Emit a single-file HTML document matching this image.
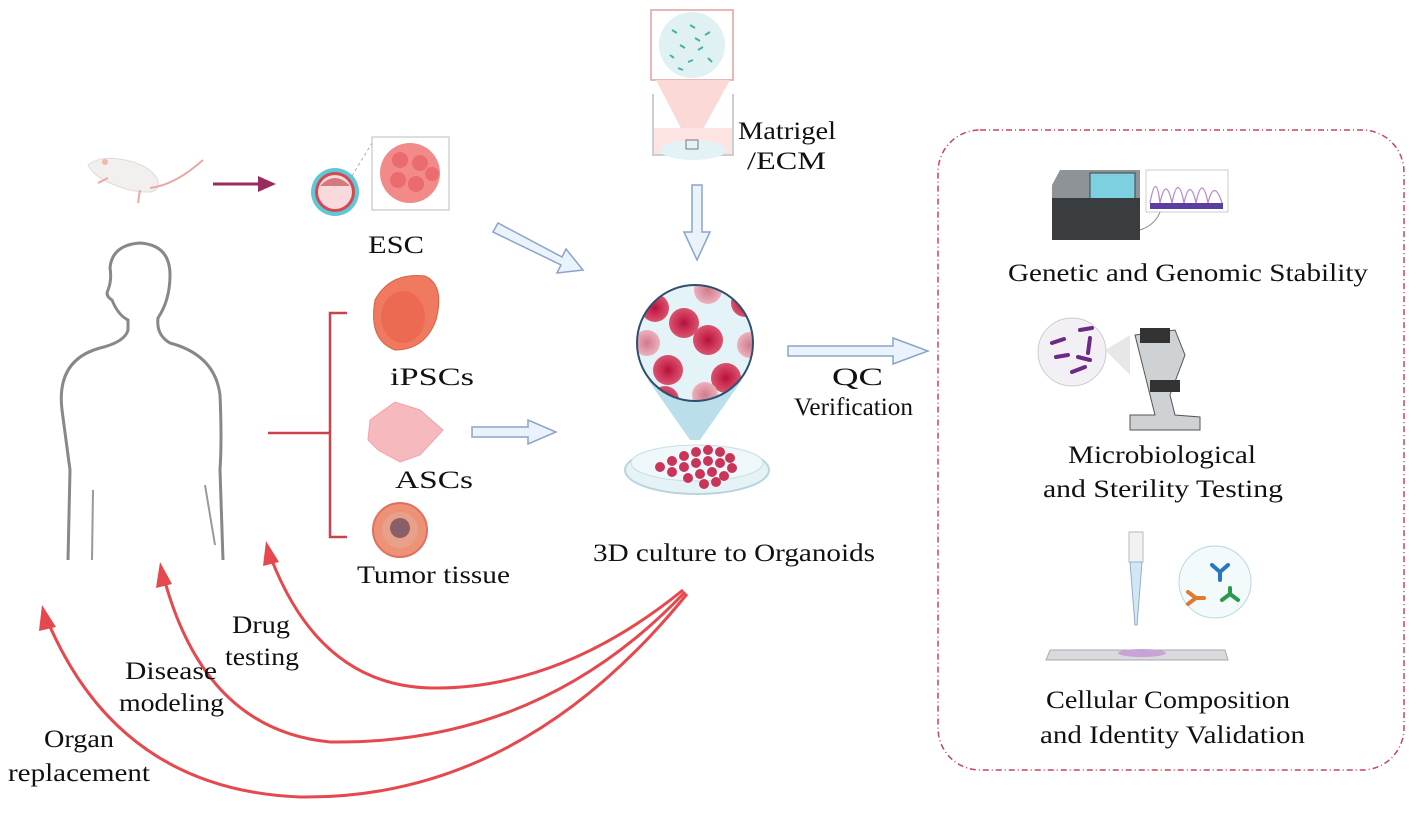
<!DOCTYPE html>
<html><head><meta charset="utf-8"><style>
html,body{margin:0;padding:0;background:#fff;}
svg{display:block;}
text{font-family:"Liberation Serif",serif;fill:#111;font-size:25px;}
</style></head><body>
<svg width="1417" height="815" viewBox="0 0 1417 815" xmlns="http://www.w3.org/2000/svg">
<defs>
<radialGradient id="cellg" cx="50%" cy="50%" r="50%"><stop offset="0" stop-color="#b0123a"/><stop offset="0.35" stop-color="#c8284e"/><stop offset="1" stop-color="#d9536f"/></radialGradient>
<radialGradient id="cellp" cx="50%" cy="50%" r="50%"><stop offset="0" stop-color="#d07a8c"/><stop offset="1" stop-color="#ecb1bd"/></radialGradient>
<clipPath id="bigc"><circle cx="695" cy="343" r="58"/></clipPath>
</defs>

<!-- mouse -->
<g>
<path d="M88,165 Q100,155 125,160 Q150,165 158,180 Q160,192 148,192 Q130,192 115,185 Q95,178 88,165 Z" fill="#f2f0ee" stroke="#e3d9d6"/>
<path d="M150,188 Q175,185 203,160" stroke="#e8a8a4" stroke-width="2" fill="none"/>
<path d="M140,190 L138,203 M108,178 L98,183" stroke="#e8a8a4" stroke-width="2"/>
<circle cx="105" cy="162" r="3" fill="#f4b6b0"/>
</g>
<line x1="213" y1="184" x2="262" y2="184" stroke="#9a2b5c" stroke-width="3"/>
<polygon points="258,176 276,184 258,192" fill="#9a2b5c"/>

<!-- blastocyst -->
<circle cx="335" cy="192" r="24" fill="#5ec7dc"/>
<circle cx="335" cy="192" r="20" fill="#d24a50"/>
<circle cx="335" cy="192" r="17" fill="#f8dadc"/>
<path d="M320,186 Q335,170 350,186 Z" fill="#d47a7f"/>
<line x1="352" y1="176" x2="372" y2="143" stroke="#aaa" stroke-dasharray="3,3"/>
<rect x="372" y="137" width="77" height="73" fill="#fff" stroke="#bbb"/>
<circle cx="410" cy="173" r="30" fill="#f28a8a"/>
<g fill="#ea6c6e"><circle cx="400" cy="160" r="8"/><circle cx="420" cy="163" r="8"/><circle cx="398" cy="180" r="8"/><circle cx="416" cy="184" r="8"/><circle cx="432" cy="174" r="7"/></g>
<text x="368" y="253" textLength="56" lengthAdjust="spacingAndGlyphs">ESC</text>

<!-- human outline -->
<path d="M68,560 L70,470 Q66,440 62,410 Q56,360 100,348 Q125,342 128,330 L128,320 Q118,315 112,300 Q105,296 108,290 Q112,280 110,268 Q112,245 140,243 Q170,245 170,275 Q170,300 158,318 Q156,335 170,343 Q215,355 220,395 Q222,440 220,470 L223,560" fill="none" stroke="#888" stroke-width="3"/>
<path d="M93,490 L92,560 M205,485 L215,545" fill="none" stroke="#999" stroke-width="2"/>

<path d="M268,433 L330,433 M347,313 L330,313 L330,537 L347,537" fill="none" stroke="#c9434f" stroke-width="2.5"/>

<path d="M375,300 Q390,272 425,276 Q445,285 436,320 Q425,350 395,350 Q368,340 375,300 Z" fill="#f07a60" stroke="#d86048"/>
<ellipse cx="403" cy="317" rx="22" ry="26" fill="#ec6a52"/>
<text x="390" y="385" textLength="84" lengthAdjust="spacingAndGlyphs">iPSCs</text>
<polygon points="370,420 395,402 420,410 443,430 420,455 400,462 378,450 368,440" fill="#f6b9bd" stroke="#f0a3a8"/>
<text x="395" y="488" textLength="78" lengthAdjust="spacingAndGlyphs">ASCs</text>
<circle cx="400" cy="530" r="27" fill="#ee9277" stroke="#e07060" stroke-width="2"/>
<circle cx="400" cy="530" r="18" fill="#e8a08a"/>
<circle cx="400" cy="528" r="10" fill="#8a6068"/>
<text x="357" y="583" textLength="153" lengthAdjust="spacingAndGlyphs">Tumor tissue</text>

<g fill="#eaf3fb" stroke="#8aa4c8" stroke-width="1.5">
<polygon points="493,232 498,223 562,257 566,249 583,270 557,273 561,265" />
<polygon points="472,427 528,427 528,420 556,432 528,444 528,437 472,437"/>
<polygon points="692,185 702,185 702,232 710,232 697,260 684,232 692,232"/>
<polygon points="788,346 893,346 893,338 928,351 893,364 893,356 788,356"/>
</g>

<rect x="651" y="10" width="82" height="70" fill="#fff" stroke="#e0a0a0" stroke-width="1.5"/>
<circle cx="692" cy="45" r="33" fill="#dff1f3"/>
<g stroke="#4ab0a8" stroke-width="2">
<line x1="672" y1="30" x2="677" y2="33"/><line x1="690" y1="25" x2="695" y2="28"/><line x1="705" y1="35" x2="710" y2="32"/><line x1="680" y1="45" x2="685" y2="48"/><line x1="698" y1="50" x2="703" y2="47"/><line x1="670" y1="55" x2="674" y2="58"/><line x1="688" y1="62" x2="693" y2="60"/><line x1="708" y1="58" x2="712" y2="62"/><line x1="695" y1="38" x2="700" y2="41"/><line x1="678" y1="68" x2="683" y2="70"/>
</g>
<polygon points="656,80 730,80 696,142 688,142" fill="#fbd9d6"/>
<path d="M653,94 L653,155 L733,155 L733,94" fill="none" stroke="#c9d0d2" stroke-width="2"/>
<rect x="654" y="128" width="78" height="26" fill="#fde4e2"/>
<ellipse cx="693" cy="150" rx="33" ry="10" fill="#e3f2f4"/>
<rect x="686" y="140" width="12" height="9" fill="none" stroke="#777"/>
<text x="738" y="139" textLength="98" lengthAdjust="spacingAndGlyphs">Matrigel</text>
<text x="747" y="169" textLength="79" lengthAdjust="spacingAndGlyphs">/ECM</text>

<polygon points="648,380 742,380 700,440 690,440" fill="#a9d7e6" opacity="0.8"/>
<ellipse cx="697" cy="470" rx="72" ry="24" fill="#e6f3f6" stroke="#b8d4dc" stroke-width="2"/>
<ellipse cx="697" cy="463" rx="66" ry="18" fill="#eef8fa" stroke="#c8dde3"/>
<g fill="#c93458">
<circle cx="660" cy="467" r="5"/><circle cx="672" cy="461" r="5"/><circle cx="684" cy="456" r="5"/><circle cx="696" cy="452" r="5"/><circle cx="708" cy="450" r="5"/><circle cx="720" cy="452" r="5"/><circle cx="730" cy="458" r="5"/><circle cx="672" cy="472" r="5"/><circle cx="684" cy="467" r="5"/><circle cx="696" cy="463" r="5"/><circle cx="708" cy="461" r="5"/><circle cx="720" cy="463" r="5"/><circle cx="732" cy="468" r="5"/><circle cx="688" cy="478" r="5"/><circle cx="700" cy="474" r="5"/><circle cx="712" cy="472" r="5"/><circle cx="724" cy="476" r="5"/><circle cx="704" cy="484" r="5"/><circle cx="716" cy="482" r="5"/>
</g>
<circle cx="695" cy="343" r="58" fill="#e4f3f7"/>
<g clip-path="url(#bigc)">
<circle cx="708" cy="290" r="14" fill="url(#cellp)"/>
<circle cx="655" cy="308" r="14" fill="url(#cellg)"/>
<circle cx="745" cy="303" r="14" fill="url(#cellg)"/>
<circle cx="684" cy="323" r="15" fill="url(#cellg)"/>
<circle cx="708" cy="340" r="15" fill="url(#cellg)"/>
<circle cx="647" cy="343" r="13" fill="url(#cellp)"/>
<circle cx="750" cy="345" r="13" fill="url(#cellp)"/>
<circle cx="668" cy="370" r="15" fill="url(#cellg)"/>
<circle cx="726" cy="378" r="15" fill="url(#cellg)"/>
<circle cx="705" cy="395" r="13" fill="url(#cellp)"/>
<circle cx="665" cy="400" r="14" fill="url(#cellg)"/>
</g>
<circle cx="695" cy="343" r="58" fill="none" stroke="#2f4f6f" stroke-width="2"/>
<text x="593" y="561" textLength="282" lengthAdjust="spacingAndGlyphs">3D culture to Organoids</text>
<text x="832" y="385" textLength="51" lengthAdjust="spacingAndGlyphs">QC</text>
<text x="794" y="415" textLength="119" lengthAdjust="spacingAndGlyphs">Verification</text>

<g fill="none" stroke="#e5484d" stroke-width="3">
<path d="M683,590 Q560,690 430,688 Q320,685 271,558"/>
<path d="M685,592 Q540,745 330,742 Q205,730 164,578"/>
<path d="M687,594 Q520,800 300,797 Q120,790 48,622"/>
</g>
<g fill="#e5484d">
<polygon points="266,541 279,562 263,566"/>
<polygon points="160,562 172,584 156,588"/>
<polygon points="42,605 56,627 39,631"/>
</g>
<text x="232" y="633" textLength="58" lengthAdjust="spacingAndGlyphs">Drug</text>
<text x="225" y="665" textLength="74" lengthAdjust="spacingAndGlyphs">testing</text>
<text x="125" y="679" textLength="92" lengthAdjust="spacingAndGlyphs">Disease</text>
<text x="119" y="711" textLength="105" lengthAdjust="spacingAndGlyphs">modeling</text>
<text x="44" y="747" textLength="70" lengthAdjust="spacingAndGlyphs">Organ</text>
<text x="8" y="781" textLength="142" lengthAdjust="spacingAndGlyphs">replacement</text>

<rect x="938" y="130" width="466" height="640" rx="42" fill="none" stroke="#c7455a" stroke-width="1.5" stroke-dasharray="6,3,1,3"/>
<g transform="translate(0,10)">
<path d="M1052,175 L1060,160 L1140,160 L1140,225 L1052,225 Z" fill="#8e9398"/>
<rect x="1090" y="163" width="45" height="28" fill="#7dd0e0" stroke="#444"/>
<rect x="1052" y="188" width="88" height="42" fill="#3a3d40"/>
<rect x="1146" y="160" width="82" height="42" fill="#fff" stroke="#ccc"/>
<path d="M1150,193 Q1156,160 1160,193 Q1166,165 1172,193 Q1178,162 1184,193 Q1190,166 1196,193 Q1202,163 1208,193 Q1214,168 1222,193" fill="none" stroke="#b88ad0" stroke-width="1.3"/>
<rect x="1150" y="193" width="73" height="6" fill="#5a3ea0"/>
<path d="M1160,202 Q1155,215 1140,220" stroke="#888" fill="none"/>
</g>
<text x="1008" y="281" textLength="360" lengthAdjust="spacingAndGlyphs">Genetic and Genomic Stability</text>
<g transform="translate(0,45)">
<circle cx="1072" cy="307" r="34" fill="#f3f0f5" stroke="#ccc"/>
<g stroke="#6b2a85" stroke-width="4" stroke-linecap="round">
<line x1="1052" y1="298" x2="1064" y2="294"/><line x1="1080" y1="285" x2="1092" y2="283"/><line x1="1090" y1="293" x2="1088" y2="308"/><line x1="1056" y1="312" x2="1068" y2="310"/><line x1="1078" y1="312" x2="1090" y2="315"/><line x1="1072" y1="327" x2="1085" y2="322"/>
</g>
<polygon points="1105,305 1130,290 1130,330" fill="#ddd" opacity="0.7"/>
<path d="M1135,290 L1175,285 L1185,310 L1170,350 L1175,370 L1200,372 L1200,385 L1130,385 L1130,370 L1155,370 Z" fill="#cfd2d5" stroke="#555"/>
<rect x="1140" y="283" width="30" height="15" fill="#333"/>
<rect x="1150" y="335" width="30" height="12" fill="#333"/>
</g>
<text x="1068" y="463" textLength="188" lengthAdjust="spacingAndGlyphs">Microbiological</text>
<text x="1043" y="497" textLength="240" lengthAdjust="spacingAndGlyphs">and Sterility Testing</text>
<rect x="1129" y="532" width="14" height="30" fill="#f2f2f2" stroke="#bbb"/>
<polygon points="1130,562 1142,562 1137,625 1135,625" fill="#cfe9f4" stroke="#9ac"/>
<circle cx="1215" cy="582" r="36" fill="#f3fafc" stroke="#b8d7df"/>
<g stroke-width="4" stroke-linecap="round" fill="none">
<path d="M1212,565 L1220,572 L1228,565 M1220,572 L1220,580" stroke="#2a76c4"/>
<path d="M1188,592 L1196,598 L1188,604 M1196,598 L1204,598" stroke="#e07a2e"/>
<path d="M1222,600 L1230,594 L1238,600 M1230,594 L1230,588" stroke="#2a9a4a"/>
</g>
<polygon points="1050,650 1225,650 1228,660 1046,660" fill="#d8dadd" stroke="#aaa"/>
<ellipse cx="1142" cy="653" rx="24" ry="4" fill="#c7a3d8"/>
<text x="1046" y="708" textLength="244" lengthAdjust="spacingAndGlyphs">Cellular Composition</text>
<text x="1040" y="743" textLength="265" lengthAdjust="spacingAndGlyphs">and Identity Validation</text>
</svg>
</body></html>
